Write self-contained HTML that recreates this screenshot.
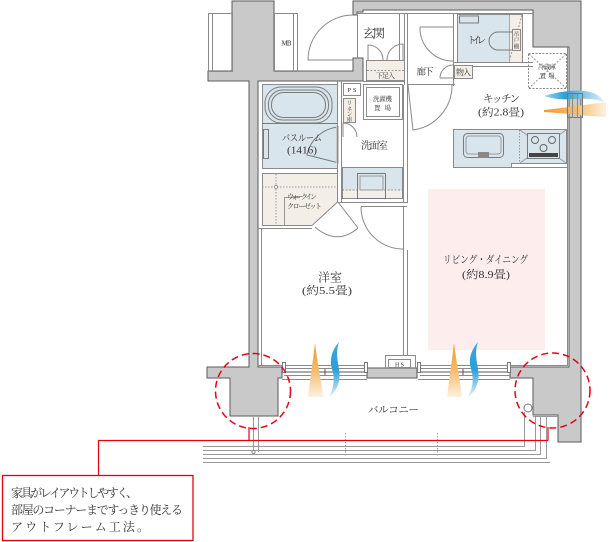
<!DOCTYPE html>
<html><head><meta charset="utf-8">
<style>
html,body{margin:0;padding:0;background:#fff;width:610px;height:542px;overflow:hidden;}
svg{display:block;}
text{font-family:"Liberation Serif","Noto Serif CJK SC",serif;fill:#333;}
</style></head><body>
<svg width="610" height="542" viewBox="0 0 610 542" xmlns="http://www.w3.org/2000/svg">
<defs>
<linearGradient id="og" x1="0" y1="0" x2="0" y2="1"><stop offset="0" stop-color="#f09a2c"/><stop offset="0.5" stop-color="#f5bb6a"/><stop offset="1" stop-color="#fdf1e2"/></linearGradient>
<linearGradient id="bg" x1="0" y1="0" x2="0" y2="1"><stop offset="0" stop-color="#3aa8de"/><stop offset="0.5" stop-color="#2a9fd8"/><stop offset="1" stop-color="#e0f1fa"/></linearGradient>
<linearGradient id="ogh" x1="0" y1="0" x2="1" y2="0"><stop offset="0" stop-color="#f09a2c"/><stop offset="0.5" stop-color="#f5bb6a"/><stop offset="1" stop-color="#fdf1e2"/></linearGradient>
<linearGradient id="bgh" x1="0" y1="0" x2="1" y2="0"><stop offset="0" stop-color="#9fd5f0"/><stop offset="0.35" stop-color="#2a9fd8"/><stop offset="1" stop-color="#e0f1fa"/></linearGradient>
</defs>

<!-- LD pink -->
<rect x="428" y="189" width="117" height="161" fill="#fdeded"/>

<!-- grey walls -->
<g fill="#c9c9c9" stroke="#5a5a5a" stroke-width="1">
<polygon points="232,1 274,1 274,71 353,71 353,58 363,58 363,81 258,81 258,367 282,367 282,378 278,378 278,416 230,416 230,378 207,378 207,367 249,367 249,81 208,81 208,71 232,71"/>
<polygon points="353,1 581,1 581,442 558,442 558,415 533,415 533,378 510,378 510,367 569,367 569,47 533,47 533,10 363,10 363,12 357,12 357,15 353,15"/>
<rect x="367" y="368" width="50" height="10"/>
</g>

<g fill="none" stroke="#8a8a8a" stroke-width="1">
<rect x="208.5" y="13.5" width="24" height="58"/>
<line x1="212.5" y1="13.5" x2="212.5" y2="71"/>
<rect x="274.5" y="13.5" width="23" height="58"/>
<line x1="293.5" y1="13.5" x2="293.5" y2="71"/>

<path d="M353,15 A45,45 0 0,0 308,60 L353,60"/>
<line x1="357" y1="13.5" x2="533" y2="13.5"/>
<line x1="357.5" y1="15" x2="357.5" y2="58"/>
<line x1="399.5" y1="13" x2="399.5" y2="60"/>
<line x1="404.5" y1="13" x2="404.5" y2="85"/>
<line x1="407.5" y1="13" x2="407.5" y2="203"/>
<line x1="403.5" y1="85" x2="403.5" y2="203"/>
<path d="M368,60 L368,45 A15,15 0 0,1 383,60"/>
<path d="M403,60 L403,44 A16,16 0 0,0 387,60"/>
<line x1="363" y1="81.5" x2="404" y2="81.5"/>
</g>
<rect x="366.5" y="60.5" width="38" height="20" fill="#f3efe6" stroke="#8a8a8a"/>
<line x1="367" y1="70.5" x2="404" y2="70.5" stroke="#999" stroke-dasharray="2,1.5"/>

<!-- bathroom -->
<rect x="262.5" y="84.5" width="75" height="84" fill="#d9e5ec" stroke="#8a8a8a"/>
<g fill="none" stroke="#7a7a7a" stroke-width="1">
<rect x="265" y="87" width="67" height="36" rx="16"/>
<rect x="268.5" y="90" width="60" height="30" rx="14"/>
<rect x="271.5" y="92.5" width="54" height="25" rx="12"/>
<line x1="262" y1="123.5" x2="337" y2="123.5"/>
<rect x="263.5" y="129.5" width="5" height="29"/>
<path d="M339,127 A35,35 0 0,0 307,155 L339,163"/>
</g>
<rect x="336" y="127" width="3" height="36" fill="#c9c9c9"/>
<g fill="none" stroke="#8a8a8a" stroke-width="1">
<line x1="337.5" y1="81" x2="337.5" y2="203"/>
<line x1="341.5" y1="81" x2="341.5" y2="203"/>
<rect x="343.5" y="83.5" width="17" height="12"/>
<rect x="363.5" y="84.5" width="39" height="35"/>
<rect x="366.5" y="87.5" width="33" height="29"/>
<path d="M343,137 L343,123 A14,14 0 0,1 357,137"/>
</g>
<rect x="343.5" y="98.5" width="12" height="24" fill="#f3efe6" stroke="#8a8a8a"/>

<!-- vanity -->
<rect x="342" y="167" width="61" height="23" fill="#d9e5ec"/>
<rect x="342" y="190" width="61" height="9" fill="#f3efe6"/>
<line x1="342" y1="190" x2="403" y2="190" stroke="#999" stroke-dasharray="2,1.5"/>
<rect x="342.5" y="167.5" width="60" height="31" fill="none" stroke="#8a8a8a"/>
<rect x="357.5" y="173.5" width="28" height="25" fill="none" stroke="#7a7a7a"/>
<rect x="360" y="176" width="23" height="14" fill="none" stroke="#999"/>
<g fill="none" stroke="#8a8a8a" stroke-width="1">
<line x1="338" y1="202.5" x2="407" y2="202.5"/>
<line x1="361" y1="206.5" x2="407" y2="206.5"/>
</g>

<!-- WIC -->
<polygon points="262.5,173.5 337.5,173.5 337.5,202 312,225.5 262.5,225.5" fill="#f3efe6" stroke="#8a8a8a"/>
<g fill="none" stroke="#999" stroke-width="1">
<line x1="262" y1="187" x2="337" y2="187" stroke-dasharray="1.5,1.5"/>
<line x1="276" y1="174" x2="276" y2="225" stroke-dasharray="1.5,1.5"/>
<circle cx="276" cy="187" r="1.6" fill="#fff"/>
<polyline points="300,197.5 284.5,197.5 284.5,225"/>
</g>
<g fill="none" stroke="#8a8a8a" stroke-width="1">
<line x1="258" y1="228.5" x2="312" y2="228.5"/>
<line x1="338" y1="202" x2="358" y2="228"/>
<path d="M358,228 Q337,246 315,227"/>
<path d="M361,207 A42,42 0 0,0 403,249"/>
<line x1="403.5" y1="207" x2="403.5" y2="355"/>
<line x1="407.5" y1="250" x2="407.5" y2="355"/>
<line x1="261.5" y1="228" x2="261.5" y2="365"/>
<polyline points="385.5,368 385.5,355.5 415.5,355.5 415.5,368"/>
</g>
<rect x="388.5" y="359.5" width="22" height="8" fill="#fff" stroke="#8a8a8a"/>

<!-- corridor / toilet -->
<g fill="none" stroke="#8a8a8a" stroke-width="1">
<path d="M408,85 L413,130 A45,45 0 0,0 452,85"/>
<line x1="407" y1="84.5" x2="455" y2="84.5"/>
<line x1="453.5" y1="13" x2="453.5" y2="86"/>
<line x1="453" y1="62.5" x2="533" y2="62.5"/>
<line x1="472" y1="66.5" x2="533" y2="66.5"/>
<path d="M420,27 L453,27 M420,27 A33,33 0 0,0 453,61"/>
<path d="M440,78 L453,78 M440,78 A13,13 0 0,1 453,65"/>
</g>
<rect x="454.5" y="65.5" width="18" height="13" fill="#f3efe6" stroke="#8a8a8a"/>
<rect x="457.5" y="14.5" width="65" height="48" fill="#d9e5ec" stroke="#8a8a8a"/>
<rect x="509" y="15" width="13" height="47" fill="#f3efe6"/>
<line x1="522" y1="15" x2="509" y2="62" stroke="#999" stroke-dasharray="2,1.5"/>
<line x1="509.5" y1="15" x2="509.5" y2="62" stroke="#aaa"/>
<rect x="459.5" y="16" width="19" height="7" fill="none" stroke="#7a7a7a"/>
<path d="M512,32 L498,32 A9,9 0 0,0 498,50 L512,50" fill="none" stroke="#7a7a7a"/>
<rect x="512.5" y="29.5" width="8" height="21" fill="#f3efe6" stroke="#8a8a8a"/>

<!-- kitchen -->
<rect x="528.5" y="53.5" width="38" height="35" fill="none" stroke="#888" stroke-dasharray="2,1.5"/>
<path d="M529,54 L566,88 M566,54 L529,88" stroke="#999" stroke-dasharray="2,1.5"/>
<path d="M453.5,129.5 L566.5,129.5 L566.5,163.5 L511.5,163.5 L511.5,167.5 L453.5,167.5 Z" fill="#d9e5ec" stroke="#8a8a8a"/>
<rect x="463.5" y="133.5" width="40" height="24" rx="4" fill="none" stroke="#7a7a7a"/>
<rect x="466" y="136" width="35" height="18" rx="3" fill="none" stroke="#999"/>
<rect x="478" y="152" width="11" height="6" fill="#888"/>
<line x1="519.5" y1="130" x2="519.5" y2="163" stroke="#999" stroke-dasharray="1.5,1.5"/>
<path d="M520,130 L566,163 M566,130 L520,163" stroke="#999"/>
<rect x="527.5" y="133.5" width="32" height="25" fill="#d9e5ec" stroke="#7a7a7a"/>
<g fill="#d9e5ec" stroke="#666">
<circle cx="535" cy="140" r="3.5"/><circle cx="552" cy="140" r="3.5"/><circle cx="543.5" cy="148" r="3.5"/>
</g>
<rect x="529" y="153" width="29" height="4" fill="#444"/>
<line x1="567.5" y1="47" x2="567.5" y2="366" stroke="#8a8a8a"/>
<line x1="511" y1="167.5" x2="567" y2="167.5" stroke="#8a8a8a"/>

<!-- kitchen vent -->
<path d="M544,96 C560,91 578,89 590,92 C598,94 602,98 604,102 C596,99 586,98 575,99 C563,100 553,99 544,96 Z" fill="url(#bgh)"/>
<path d="M544,110 C562,108 584,105 606,102 L606,117 C585,116 563,113 544,112 Z" fill="url(#ogh)"/>
<rect x="567.5" y="93.5" width="15" height="24" fill="none" stroke="#777"/>
<line x1="572.5" y1="93.5" x2="572.5" y2="117.5" stroke="#888"/>
<line x1="577.5" y1="93.5" x2="577.5" y2="117.5" stroke="#888"/>

<!-- sashes -->
<g fill="none" stroke="#8a8a8a" stroke-width="1">
<line x1="258" y1="365.5" x2="282" y2="365.5"/>
<line x1="282" y1="365.5" x2="367" y2="365.5"/>
<line x1="284" y1="368.5" x2="367" y2="368.5"/>
<line x1="284" y1="375.5" x2="367" y2="375.5"/>
<line x1="282" y1="379.5" x2="367" y2="379.5"/>
<line x1="418" y1="365.5" x2="510" y2="365.5"/>
<line x1="420" y1="368.5" x2="510" y2="368.5"/>
<line x1="420" y1="375.5" x2="510" y2="375.5"/>
<line x1="418" y1="379.5" x2="510" y2="379.5"/>
<line x1="510" y1="365.5" x2="568" y2="365.5"/>
</g>
<line x1="284" y1="372" x2="367" y2="372" stroke="#555"/>
<line x1="420" y1="372" x2="510" y2="372" stroke="#555"/>
<g fill="#fff" stroke="#777">
<rect x="282.5" y="362.5" width="3" height="10"/><rect x="364.5" y="362.5" width="3" height="10"/>
<rect x="417.5" y="362.5" width="3" height="10"/><rect x="507.5" y="362.5" width="3" height="10"/>
</g>
<path d="M325,369 L325,375 M322,372 L328,372" stroke="#555"/>
<path d="M463,369 L463,375 M460,372 L466,372" stroke="#555"/>

<!-- flames -->
<g>
<path d="M315,343 C313,360 310,380 308,397 L323,397 C321,380 317,360 315,343 Z" fill="url(#og)"/>
<path d="M339,342 C332,350 329,360 332,369 C335,378 334,388 329,397 C337,391 341,381 339,369 C337,359 336,350 339,342 Z" fill="url(#bg)"/>
</g>
<g transform="translate(139,0)">
<path d="M315,343 C313,360 310,380 308,397 L323,397 C321,380 317,360 315,343 Z" fill="url(#og)"/>
<path d="M339,342 C332,350 329,360 332,369 C335,378 334,388 329,397 C337,391 341,381 339,369 C337,359 336,350 339,342 Z" fill="url(#bg)"/>
</g>

<!-- balcony -->
<g fill="none" stroke="#999" stroke-width="1">
<polyline points="203,446.5 524.5,446.5 524.5,412"/>
<polyline points="203,450.5 535.5,450.5 535.5,416"/>
<polyline points="203,454.5 540.5,454.5 540.5,416"/>
<polyline points="203,458.5 546.5,458.5 546.5,416"/>
<polyline points="203,462.5 550,462.5"/>
<line x1="533" y1="416.5" x2="558" y2="416.5"/>
<line x1="253.5" y1="416" x2="253.5" y2="452"/>
<line x1="258.5" y1="416" x2="258.5" y2="452"/>
<line x1="345.5" y1="433" x2="345.5" y2="456" stroke-dasharray="1.5,1.5"/>
<line x1="437.5" y1="433" x2="437.5" y2="456" stroke-dasharray="1.5,1.5"/>
</g>
<circle cx="253.5" cy="452" r="1.6" fill="#fff" stroke="#888"/>
<circle cx="528" cy="408" r="4" fill="#fff" stroke="#777"/>

<!-- red annotations -->
<g fill="none" stroke="#e60012">
<circle cx="253" cy="391" r="37.5" stroke-width="1.5" stroke-dasharray="7,4"/>
<circle cx="552.5" cy="390.5" r="37.5" stroke-width="1.5" stroke-dasharray="7,4"/>
<polyline points="249,427 249,440.5" stroke-width="1.2"/>
<polyline points="548,427 548,440.5" stroke-width="1.2"/>
<polyline points="98.5,475 98.5,440.5 548,440.5" stroke-width="1.2"/>
<rect x="2.5" y="475.5" width="190.5" height="65" stroke-width="1.3" fill="#fff"/>
</g>

<!-- texts -->
<g text-anchor="middle">
<text x="374" y="37.5" font-size="12" textLength="22">玄関</text>
<text x="385.5" y="78" font-size="7" textLength="19">下足入</text>
<text x="425" y="75" font-size="9.5" textLength="17">廊下</text>
<text x="463.5" y="75" font-size="8" textLength="15">物入</text>
<text x="476.5" y="43.5" font-size="9.5" textLength="19">トイレ</text>
<text x="547" y="69" font-size="6.5" textLength="18">冷蔵庫</text>
<text x="547" y="78" font-size="6.5" textLength="15">置　場</text>
<text x="501.5" y="102" font-size="10.5" textLength="37">キッチン</text>
<text x="501" y="115.5" font-size="10.5" textLength="46" lengthAdjust="spacingAndGlyphs">(約2.8畳)</text>
<text x="352" y="92" font-size="6.5" textLength="9">PS</text>
<text x="382.5" y="101" font-size="6.5" textLength="19">洗濯機</text>
<text x="382.5" y="110" font-size="6.5" textLength="17">置　場</text>
<text x="302" y="141.5" font-size="10" textLength="40" lengthAdjust="spacingAndGlyphs">バスルーム</text>
<text x="302" y="153.5" font-size="10" textLength="30" lengthAdjust="spacingAndGlyphs">(1416)</text>
<text x="374.5" y="149" font-size="10" textLength="27">洗面室</text>
<text x="302" y="199" font-size="7" textLength="30">ウォークイン</text>
<text x="304.5" y="208.5" font-size="7" textLength="35">クローゼット</text>
<text x="330" y="281.5" font-size="12" textLength="24">洋室</text>
<text x="327" y="294" font-size="11" textLength="50" lengthAdjust="spacingAndGlyphs">(約5.5畳)</text>
<text x="485.5" y="263" font-size="10.5" textLength="85" lengthAdjust="spacingAndGlyphs">リビング・ダイニング</text>
<text x="486" y="278" font-size="11" textLength="48" lengthAdjust="spacingAndGlyphs">(約8.9畳)</text>
<text x="393.5" y="413" font-size="10.5" textLength="51">バルコニー</text>
<text x="399.5" y="366.5" font-size="6" textLength="9">HS</text>
<text x="286.5" y="45.5" font-size="7" textLength="10">MB</text>
</g>
<g font-size="5.5" text-anchor="middle">
<text x="349.5" y="105">リ</text><text x="349.5" y="111">ネ</text><text x="349.5" y="116">ン</text><text x="349.5" y="121.5">庫</text>
<text x="516.5" y="36">吊</text><text x="516.5" y="42">戸</text><text x="516.5" y="48.5">棚</text>
</g>
<g font-size="12">
<text x="11" y="497" textLength="127">家具がレイアウトしやすく、</text>
<text x="11" y="514" textLength="172">部屋のコーナーまですっきり使える</text>
<text x="11" y="531" textLength="138">アウトフレーム工法。</text>
</g>
</svg>
</body></html>
